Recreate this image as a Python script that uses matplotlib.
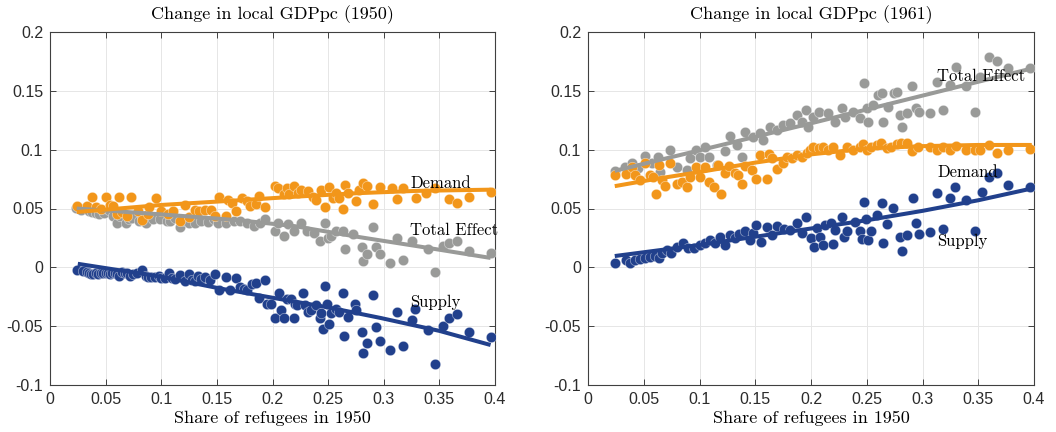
import matplotlib.pyplot as plt
import numpy as np

plt.rcParams['font.family'] = ['Liberation Sans', 'DejaVu Sans']
plt.rcParams['axes.unicode_minus'] = False

# binned scatter values: (share of refugees, change in GDPpc)
left_supply = [
    (0.024, -0.0023), (0.030, -0.003), (0.033, -0.0037), (0.035, -0.005), (0.037, -0.006),
    (0.039, -0.0055), (0.041, -0.005), (0.043, -0.0055), (0.0456, -0.005), (0.048, -0.0045),
    (0.050, -0.005), (0.052, -0.005), (0.054, -0.0057), (0.056, -0.005), (0.058, -0.0045),
    (0.060, -0.006), (0.062, -0.0074), (0.065, -0.0037), (0.067, -0.005), (0.069, -0.0045),
    (0.072, -0.0074), (0.075, -0.006), (0.078, -0.005), (0.083, -0.0023), (0.086, -0.007),
    (0.088, -0.008), (0.091, -0.008), (0.094, -0.0085), (0.098, -0.0074), (0.100, -0.009),
    (0.103, -0.0094), (0.107, -0.005), (0.110, -0.009), (0.112, -0.010), (0.117, -0.0065),
    (0.121, -0.012), (0.125, -0.0057), (0.128, -0.011), (0.130, -0.012), (0.133, -0.0074),
    (0.136, -0.010), (0.139, -0.008), (0.144, -0.011), (0.148, -0.006), (0.152, -0.019),
    (0.158, -0.0085), (0.162, -0.019), (0.167, -0.0094), (0.171, -0.017), (0.174, -0.018),
    (0.177, -0.019), (0.182, -0.0145), (0.185, -0.013), (0.188, -0.026), (0.193, -0.011),
    (0.195, -0.031), (0.199, -0.031), (0.202, -0.043), (0.206, -0.022), (0.208, -0.036),
    (0.210, -0.043), (0.213, -0.027), (0.217, -0.027), (0.219, -0.043), (0.220, -0.031),
    (0.222, -0.032), (0.227, -0.0216), (0.229, -0.032), (0.232, -0.038), (0.235, -0.036),
    (0.239, -0.032), (0.243, -0.043), (0.244, -0.039), (0.245, -0.052), (0.247, -0.016),
    (0.249, -0.031), (0.251, -0.048), (0.253, -0.039), (0.257, -0.035), (0.260, -0.038),
    (0.263, -0.0216), (0.264, -0.058), (0.268, -0.042), (0.274, -0.031), (0.275, -0.036),
    (0.280, -0.055), (0.281, -0.073), (0.285, -0.064), (0.290, -0.0236), (0.293, -0.051),
    (0.297, -0.063), (0.306, -0.070), (0.312, -0.038), (0.317, -0.067), (0.325, -0.045),
    (0.328, -0.035), (0.340, -0.053), (0.346, -0.082), (0.353, -0.050), (0.359, -0.043),
    (0.366, -0.040), (0.377, -0.055), (0.396, -0.059),
]
left_total = [
    (0.0234, 0.0506), (0.028, 0.049), (0.032, 0.051), (0.035, 0.048), (0.038, 0.047),
    (0.041, 0.046), (0.044, 0.045), (0.0485, 0.046), (0.053, 0.049), (0.057, 0.044),
    (0.060, 0.038), (0.063, 0.0435), (0.068, 0.038), (0.071, 0.041), (0.074, 0.042),
    (0.080, 0.039), (0.083, 0.043), (0.086, 0.038), (0.093, 0.041), (0.099, 0.041),
    (0.105, 0.039), (0.108, 0.039), (0.112, 0.042), (0.117, 0.034), (0.121, 0.039),
    (0.125, 0.038), (0.130, 0.038), (0.136, 0.039), (0.142, 0.0385), (0.147, 0.041),
    (0.151, 0.038), (0.158, 0.038), (0.165, 0.039), (0.171, 0.039), (0.177, 0.038),
    (0.183, 0.035), (0.189, 0.038), (0.193, 0.041), (0.202, 0.031), (0.205, 0.038),
    (0.210, 0.027), (0.214, 0.0365), (0.219, 0.031), (0.226, 0.038), (0.231, 0.031),
    (0.237, 0.029), (0.243, 0.0225), (0.247, 0.038), (0.250, 0.025), (0.253, 0.027),
    (0.257, 0.031), (0.263, 0.031), (0.265, 0.016), (0.272, 0.028), (0.280, 0.017),
    (0.281, 0.005), (0.285, 0.011), (0.290, 0.034), (0.293, 0.017), (0.297, 0.011),
    (0.306, 0.0037), (0.312, 0.025), (0.317, 0.006), (0.325, 0.022), (0.340, 0.0155),
    (0.346, -0.004), (0.353, 0.018), (0.359, 0.021), (0.366, 0.0225), (0.377, 0.0135),
    (0.396, 0.0126),
]
left_demand = [
    (0.024, 0.052), (0.033, 0.052), (0.0376, 0.0596), (0.041, 0.051), (0.046, 0.050),
    (0.050, 0.0596), (0.054, 0.053), (0.057, 0.052), (0.060, 0.045), (0.062, 0.0596),
    (0.065, 0.047), (0.069, 0.0435), (0.073, 0.060), (0.079, 0.048), (0.083, 0.040),
    (0.088, 0.045), (0.089, 0.051), (0.095, 0.059), (0.100, 0.048), (0.106, 0.045),
    (0.111, 0.048), (0.117, 0.039), (0.121, 0.053), (0.125, 0.043), (0.130, 0.049),
    (0.134, 0.048), (0.139, 0.049), (0.145, 0.049), (0.148, 0.0435), (0.152, 0.060),
    (0.158, 0.044), (0.160, 0.057), (0.164, 0.055), (0.167, 0.048), (0.173, 0.059),
    (0.177, 0.056), (0.180, 0.052), (0.185, 0.054), (0.188, 0.061), (0.193, 0.051),
    (0.202, 0.069), (0.205, 0.067), (0.210, 0.062), (0.213, 0.067), (0.215, 0.062),
    (0.219, 0.069), (0.223, 0.063), (0.226, 0.066), (0.232, 0.065), (0.236, 0.060),
    (0.239, 0.057), (0.244, 0.066), (0.247, 0.051), (0.251, 0.068), (0.254, 0.059),
    (0.257, 0.063), (0.260, 0.059), (0.263, 0.050), (0.265, 0.070), (0.268, 0.063),
    (0.275, 0.056), (0.278, 0.066), (0.281, 0.072), (0.285, 0.069), (0.290, 0.054),
    (0.297, 0.068), (0.307, 0.067), (0.312, 0.058), (0.317, 0.067), (0.329, 0.059),
    (0.338, 0.063), (0.346, 0.067), (0.359, 0.058), (0.366, 0.055), (0.377, 0.060),
    (0.396, 0.064),
]

right_total = [
    (0.0242, 0.0821), (0.0332, 0.0855), (0.0392, 0.0889), (0.0452, 0.0841), (0.0511, 0.0946),
    (0.0571, 0.0884), (0.0631, 0.094), (0.0646, 0.0812), (0.0735, 0.0997), (0.0801, 0.0855),
    (0.0885, 0.0827), (0.0915, 0.0926), (0.0969, 0.0997), (0.1004, 0.094), (0.1049, 0.1025),
    (0.1088, 0.094), (0.1154, 0.0869), (0.1229, 0.0991), (0.1274, 0.1116), (0.1333, 0.1039),
    (0.1378, 0.094), (0.1408, 0.1152), (0.1483, 0.111), (0.1542, 0.1139), (0.1572, 0.1082),
    (0.1632, 0.1195), (0.1692, 0.1167), (0.1752, 0.1209), (0.1811, 0.1224), (0.1871, 0.1294),
    (0.1916, 0.1237), (0.1955, 0.1337), (0.1976, 0.1195), (0.202, 0.128), (0.207, 0.1322),
    (0.2155, 0.1314), (0.2215, 0.1237), (0.2275, 0.1351), (0.2305, 0.128), (0.238, 0.1322),
    (0.244, 0.1266), (0.2475, 0.1569), (0.250, 0.1351), (0.2515, 0.1235), (0.256, 0.1379),
    (0.2605, 0.1464), (0.2635, 0.1478), (0.265, 0.1237), (0.2695, 0.1365), (0.2745, 0.1478),
    (0.277, 0.1492), (0.280, 0.1294), (0.282, 0.119), (0.286, 0.1309), (0.291, 0.1541),
    (0.294, 0.1351), (0.2965, 0.1322), (0.307, 0.1309), (0.313, 0.1577), (0.318, 0.1337),
    (0.325, 0.1549), (0.330, 0.170), (0.339, 0.1541), (0.347, 0.1322), (0.3515, 0.1615),
    (0.360, 0.179), (0.3665, 0.1756), (0.377, 0.1691), (0.396, 0.1691),
]
right_demand = [
    (0.0242, 0.0784), (0.034, 0.0793), (0.0392, 0.085), (0.0421, 0.0784), (0.0466, 0.0742),
    (0.0511, 0.0884), (0.0556, 0.0784), (0.0586, 0.077), (0.061, 0.062), (0.064, 0.0869),
    (0.066, 0.0742), (0.069, 0.0691), (0.0735, 0.0884), (0.0801, 0.0708), (0.084, 0.0728),
    (0.0885, 0.0685), (0.0915, 0.077), (0.0969, 0.0855), (0.1004, 0.0765), (0.1049, 0.085),
    (0.1088, 0.0728), (0.113, 0.0685), (0.1169, 0.0869), (0.119, 0.062), (0.1229, 0.0804),
    (0.1268, 0.0861), (0.1318, 0.0804), (0.1342, 0.0784), (0.1378, 0.0708), (0.1408, 0.0861),
    (0.1468, 0.0827), (0.1507, 0.0748), (0.1542, 0.0954), (0.1602, 0.075), (0.1626, 0.0963),
    (0.1647, 0.0926), (0.1692, 0.0838), (0.1752, 0.0889), (0.1781, 0.094), (0.1826, 0.0926),
    (0.1871, 0.0954), (0.1916, 0.094), (0.1961, 0.0969), (0.199, 0.0997), (0.202, 0.102),
    (0.207, 0.1012), (0.211, 0.1025), (0.2155, 0.0997), (0.220, 0.102), (0.226, 0.0955),
    (0.232, 0.102), (0.238, 0.0993), (0.244, 0.102), (0.247, 0.1048), (0.250, 0.0997),
    (0.254, 0.1025), (0.259, 0.1039), (0.263, 0.1054), (0.268, 0.1012), (0.272, 0.1025),
    (0.277, 0.1048), (0.281, 0.1054), (0.286, 0.106), (0.291, 0.099), (0.296, 0.1025),
    (0.307, 0.102), (0.313, 0.0997), (0.318, 0.102), (0.325, 0.0997), (0.330, 0.103),
    (0.339, 0.0997), (0.347, 0.0993), (0.3515, 0.0997), (0.360, 0.104), (0.3665, 0.0974),
    (0.377, 0.0997), (0.396, 0.1003),
]
right_supply = [
    (0.0242, 0.0039), (0.034, 0.0062), (0.0377, 0.0039), (0.0421, 0.0062), (0.0466, 0.0068),
    (0.0511, 0.0076), (0.0556, 0.0085), (0.0601, 0.0096), (0.064, 0.0076), (0.066, 0.0125),
    (0.0705, 0.0147), (0.0741, 0.0119), (0.0801, 0.017), (0.0849, 0.0204), (0.0899, 0.0161),
    (0.095, 0.0161), (0.1004, 0.019), (0.1049, 0.0204), (0.1094, 0.0232), (0.1139, 0.021),
    (0.1184, 0.0255), (0.1229, 0.019), (0.1274, 0.0275), (0.1318, 0.0246), (0.1357, 0.0283),
    (0.1408, 0.0312), (0.1453, 0.0232), (0.1483, 0.0294), (0.1507, 0.036), (0.1549, 0.0218),
    (0.1602, 0.0345), (0.1647, 0.0275), (0.1692, 0.0351), (0.1757, 0.0323), (0.1811, 0.0317),
    (0.1871, 0.038), (0.1916, 0.0294), (0.1955, 0.0425), (0.1997, 0.0246), (0.203, 0.0175),
    (0.205, 0.0331), (0.208, 0.0255), (0.2105, 0.019), (0.2126, 0.036), (0.2176, 0.0374),
    (0.2194, 0.0198), (0.2215, 0.0317), (0.2275, 0.043), (0.2296, 0.0255), (0.232, 0.0311),
    (0.2394, 0.0388), (0.2439, 0.0311), (0.2454, 0.0238), (0.2475, 0.0558), (0.2493, 0.0408),
    (0.2514, 0.0232), (0.2534, 0.0311), (0.2589, 0.0445), (0.2634, 0.0544), (0.2649, 0.0209),
    (0.2678, 0.0368), (0.2738, 0.0502), (0.2798, 0.0255), (0.2819, 0.0141), (0.2858, 0.0275),
    (0.2912, 0.0586), (0.2942, 0.0374), (0.2971, 0.0283), (0.3067, 0.0303), (0.3127, 0.0629),
    (0.3181, 0.0323), (0.3247, 0.0586), (0.3291, 0.068), (0.339, 0.0572), (0.3471, 0.0311),
    (0.353, 0.0643), (0.3599, 0.077), (0.3664, 0.0804), (0.3769, 0.070), (0.396, 0.068),
]

# fitted curves, read at a few x values
left_supply_fit = [(0.025, 0.003), (0.10, -0.008), (0.153, -0.018), (0.207, -0.027),
                   (0.25, -0.034), (0.297, -0.043), (0.35, -0.054), (0.396, -0.066)]
left_total_fit = [(0.024, 0.050), (0.10, 0.045), (0.17, 0.040), (0.22, 0.035),
                  (0.276, 0.026), (0.33, 0.018), (0.396, 0.008)]
left_demand_fit = [(0.024, 0.047), (0.10, 0.053), (0.17, 0.057), (0.22, 0.060),
                   (0.276, 0.063), (0.33, 0.065), (0.396, 0.066)]
right_supply_fit = [(0.024, 0.0096), (0.10, 0.019), (0.15, 0.026), (0.20, 0.033),
                    (0.25, 0.040), (0.30, 0.048), (0.35, 0.057), (0.398, 0.067)]
right_total_fit = [(0.024, 0.082), (0.20, 0.1224), (0.398, 0.169)]
right_demand_fit = [(0.024, 0.069), (0.06, 0.075), (0.10, 0.081), (0.15, 0.089), (0.20, 0.096),
                    (0.25, 0.101), (0.30, 0.103), (0.35, 0.104), (0.398, 0.104)]

xticks = [0, 0.05, 0.1, 0.15, 0.2, 0.25, 0.3, 0.35, 0.4]
xticklabels = ['0', '0.05', '0.1', '0.15', '0.2', '0.25', '0.3', '0.35', '0.4']
yticks = [-0.1, -0.05, 0, 0.05, 0.1, 0.15, 0.2]
yticklabels = ['-0.1', '-0.05', '0', '0.05', '0.1', '0.15', '0.2']

ORANGE = '#F2961A'
GRAY = '#999A98'
BLUE = '#21408C'
SERIF = 'cmr10'


def panel(ax, title, series, fits, labels):
    for pts, col in series:
        a = np.array(pts)
        ax.scatter(a[:, 0], a[:, 1], s=56, color=col, edgecolors=(1, 1, 1, 0.5),
                   linewidths=0.5, zorder=3)
    for pts, col in fits:
        a = np.array(pts)
        ax.plot(a[:, 0], a[:, 1], color=col, lw=2.9, solid_capstyle='butt', zorder=4)
    for x, y, txt in labels:
        ax.text(x, y, txt, fontfamily=SERIF, fontsize=12, va='center', ha='left', zorder=5)

    ax.set_xlim(0, 0.4)
    ax.set_ylim(-0.1, 0.2)
    ax.set_xticks(xticks)
    ax.set_xticklabels(xticklabels)
    ax.set_yticks(yticks)
    ax.set_yticklabels(yticklabels)
    ax.tick_params(direction='in', length=4, width=0.7, color='#404040', labelsize=11.5,
                   labelcolor='#2b2b2b', top=True, right=True, pad=5)
    for sp in ax.spines.values():
        sp.set_color('#404040')
        sp.set_linewidth(0.8)
    ax.grid(True, color='#e6e6e6', lw=0.7)
    ax.set_axisbelow(True)
    ax.set_title(title, fontfamily=SERIF, fontsize=13, pad=9)
    ax.set_xlabel('Share of refugees in 1950', fontfamily=SERIF, fontsize=13, labelpad=3)


fig = plt.figure(figsize=(10.56, 4.32), dpi=100)
ax1 = fig.add_axes([50 / 1056, 1 - 385 / 432, 445 / 1056, 353 / 432])
ax2 = fig.add_axes([588 / 1056, 1 - 385 / 432, 446 / 1056, 353 / 432])

panel(ax1, 'Change in local GDPpc (1950)',
      [(left_total, GRAY), (left_demand, ORANGE), (left_supply, BLUE)],
      [(left_total_fit, GRAY), (left_demand_fit, ORANGE), (left_supply_fit, BLUE)],
      [(0.3236, 0.0716, 'Demand'), (0.3236, 0.0317, 'Total Effect'), (0.3236, -0.0295, 'Supply')])

panel(ax2, 'Change in local GDPpc (1961)',
      [(right_total, GRAY), (right_demand, ORANGE), (right_supply, BLUE)],
      [(right_total_fit, GRAY), (right_demand_fit, ORANGE), (right_supply_fit, BLUE)],
      [(0.313, 0.1626, 'Total Effect'), (0.313, 0.081, 'Demand'), (0.313, 0.0224, 'Supply')])

fig.savefig('out.png', dpi=100)
